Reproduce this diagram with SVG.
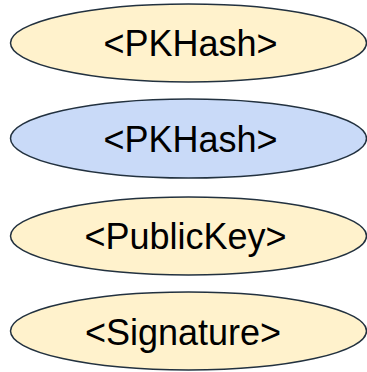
<svg xmlns="http://www.w3.org/2000/svg" width="367" height="372" viewBox="0 0 367 372">
<style>
.n{stroke:#22313f;stroke-width:1.5}
.y{fill:#fff2cc}
.b{fill:#c9daf8}
.t{font-family:"Liberation Sans",Arial,sans-serif;font-size:36px;fill:#000;text-anchor:middle}
</style>
<rect width="367" height="372" fill="#fff"/>
<g id="node1"><ellipse class="n y" cx="188.5" cy="43" rx="178" ry="39"/><text class="t" x="190.5" y="56">&lt;PKHash&gt;</text></g>
<g id="node2"><ellipse class="n b" cx="188.5" cy="138.5" rx="178" ry="39.5"/><text class="t" x="190.5" y="152">&lt;PKHash&gt;</text></g>
<g id="node3"><ellipse class="n y" cx="188.5" cy="236" rx="178" ry="39"/><text class="t" x="185.5" y="249">&lt;PublicKey&gt;</text></g>
<g id="node4"><ellipse class="n y" cx="188.5" cy="331" rx="178" ry="39"/><text class="t" x="183" y="345">&lt;Signature&gt;</text></g>
<g id="connectors"></g>
</svg>
